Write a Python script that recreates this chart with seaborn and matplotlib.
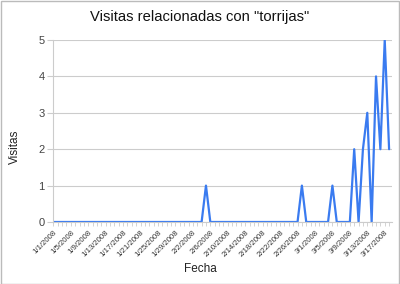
import matplotlib
matplotlib.use("Agg")
import matplotlib.pyplot as plt
import seaborn as sns
import pandas as pd
from matplotlib.patches import Rectangle

start_date = "2008-01-01"
visitas = [
    0, 0, 0, 0, 0, 0, 0, 0, 0, 0,
    0, 0, 0, 0, 0, 0, 0, 0, 0, 0,
    0, 0, 0, 0, 0, 0, 0, 0, 0, 0,
    0, 0, 0, 0, 0, 1, 0, 0, 0, 0,
    0, 0, 0, 0, 0, 0, 0, 0, 0, 0,
    0, 0, 0, 0, 0, 0, 0, 1, 0, 0,
    0, 0, 0, 0, 1, 0, 0, 0, 0, 2,
    0, 2, 3, 0, 4, 2, 5, 2,
]
tick_labels = ["1/1/2008", "1/5/2008", "1/9/2008", "1/13/2008", "1/17/2008",
               "1/21/2008", "1/25/2008", "1/29/2008", "2/2/2008", "2/6/2008",
               "2/10/2008", "2/14/2008", "2/18/2008", "2/22/2008", "2/26/2008",
               "3/1/2008", "3/5/2008", "3/9/2008", "3/13/2008", "3/17/2008"]
y_ticks = [0, 1, 2, 3, 4, 5]

fechas = pd.date_range(start_date, periods=len(visitas), freq="D")
df = pd.DataFrame({"Fecha": fechas, "Visitas": visitas})

sns.set_theme(style="white")
plt.rcParams["font.family"] = ["Liberation Sans", "DejaVu Sans"]

fig = plt.figure(figsize=(4.0, 2.84), dpi=100)
ax = fig.add_axes([53 / 400, 1 - 222 / 284, (392 - 53) / 400, (222 - 40) / 284])

sns.lineplot(data=df, x="Fecha", y="Visitas", ax=ax, color="#3a7bf0", linewidth=1.6)

tick_dates = pd.to_datetime(tick_labels, format="%m/%d/%Y")
ax.set_xticks(tick_dates)
ax.set_xticklabels(tick_labels, rotation=45, ha="right", rotation_mode="anchor",
                   fontsize=5.6, color="#333333")
ax.set_xticks(fechas, minor=True)
ax.set_xlim(fechas[0] - pd.Timedelta(hours=2), fechas[-1] + pd.Timedelta(hours=16))
ax.set_ylim(0, 5)
ax.set_yticks(y_ticks)
ax.set_yticklabels([str(v) for v in y_ticks], fontsize=8, color="#444444")

ax.grid(axis="y", color="#cccccc", linewidth=0.8)
ax.set_axisbelow(True)
for side in ["top", "right"]:
    ax.spines[side].set_visible(False)
for side in ["left", "bottom"]:
    ax.spines[side].set_color("#cccccc")
    ax.spines[side].set_linewidth(0.8)

ax.tick_params(axis="y", which="major", length=4, color="#cccccc", width=0.8, pad=2, left=True)
ax.tick_params(axis="x", which="major", length=3, color="#cccccc", width=0.6, pad=2, bottom=True)
ax.tick_params(axis="x", which="minor", length=3, color="#cccccc", width=0.6, bottom=True)

ax.set_xlabel("")
ax.set_ylabel("")
fig.text(200 / 400, 1 - 269 / 284, "Fecha", ha="center", va="center",
         fontsize=8.5, color="#222222")
fig.text(15 / 400, 1 - 147 / 284, "Visitas", ha="center", va="center", rotation=90,
         fontsize=8.5, color="#222222")
fig.text(0.5, 1 - 17 / 284, 'Visitas relacionadas con "torrijas"', ha="center", va="center",
         fontsize=10.6, color="#111111")

fig.add_artist(Rectangle((0.5 / 400, 0.5 / 284), 398.5 / 400, 282.5 / 284,
                         transform=fig.transFigure, fill=False, edgecolor="#bbbbbb", linewidth=1))

fig.savefig("out.png", dpi=100)
